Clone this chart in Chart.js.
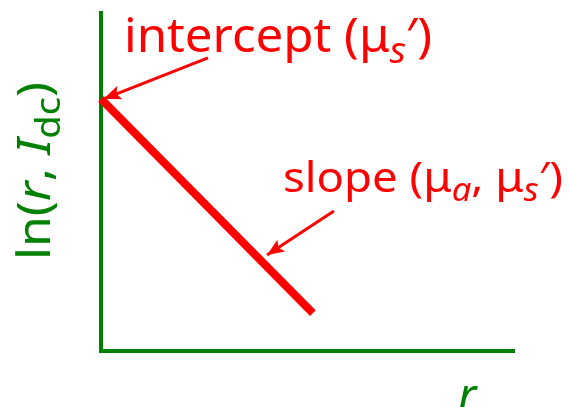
<!DOCTYPE html>
<html>
<head>
<meta charset="utf-8">
<script src="https://cdn.jsdelivr.net/npm/chart.js@4.4.0/dist/chart.umd.min.js"></script>
<style>
  html, body { margin: 0; padding: 0; background: #fff; }
  #wrap { width: 569px; height: 407px; }
</style>
</head>
<body>
<div id="wrap"><canvas id="chart" width="569" height="407"></canvas></div>
<script>
// axis range (arbitrary units, schematic)
const axisMax = 10;

// main line ln(r*Idc) vs r
const lineX = [0, 5.13];
const lineY = [7.46, 1.12];

// arrows: tail -> head
const interceptArrowX = [2.59, 0.07];
const interceptArrowY = [8.67, 7.46];
const slopeArrowX = [5.64, 4.02];
const slopeArrowY = [4.14, 2.84];

// labels as text runs
const interceptLabel = [{ t: 'intercept (\u03bc' }, { t: 's', it: true, sub: true }, { t: '\u2032)' }];
const slopeLabel = [{ t: 'slope (\u03bc' }, { t: 'a', it: true, sub: true }, { t: ', \u03bc' }, { t: 's', it: true, sub: true }, { t: '\u2032)' }];
const yLabel = [{ t: 'ln(' }, { t: 'r', it: true }, { t: ', ' }, { t: 'I', it: true }, { t: 'dc', sub: true }, { t: ')' }];
const xLabel = [{ t: 'r', it: true }];

const RED = '#ff0000';
const GREEN = '#008000';
const FONT = '"Noto Sans", sans-serif';

function toPts(xs, ys) {
    return xs.map((x, i) => ({ x: x, y: ys[i] }));
}

function runFont(r, size) {
    const s = r.sub ? size * 0.76 : size;
    return (r.it ? 'italic ' : '') + s + 'px ' + FONT;
}

// draw text runs starting at (x, baseline), optionally squeezed to a width
function drawRuns(ctx, runs, x, y, size, color, width) {
    let total = 0;
    runs.forEach(r => { ctx.font = runFont(r, size); total += ctx.measureText(r.t).width; });
    const k = width ? width / total : 1;
    ctx.save();
    ctx.translate(x, y);
    ctx.scale(k, 1);
    ctx.fillStyle = color;
    ctx.textBaseline = 'alphabetic';
    let cx = 0;
    runs.forEach(r => {
        ctx.font = runFont(r, size);
        ctx.fillText(r.t, cx, r.sub ? size * 0.22 : 0);
        cx += ctx.measureText(r.t).width;
    });
    ctx.restore();
}

const decorPlugin = {
    id: 'decor',
    afterDatasetsDraw(chart) {
        const ctx = chart.ctx;
        // arrow heads at the last point of each arrow dataset
        chart.data.datasets.forEach((ds, i) => {
            if (!ds.arrow) return;
            const pts = chart.getDatasetMeta(i).data;
            const a = pts[0], b = pts[pts.length - 1];
            const ang = Math.atan2(b.y - a.y, b.x - a.x);
            const len = 17, half = 7;
            ctx.save();
            ctx.translate(b.x, b.y);
            ctx.rotate(ang);
            ctx.beginPath();
            ctx.moveTo(0, 0);
            ctx.lineTo(-len, -half);
            ctx.lineTo(-len * 0.8, 0);
            ctx.lineTo(-len, half);
            ctx.closePath();
            ctx.fillStyle = ds.borderColor;
            ctx.fill();
            ctx.restore();
        });

        const area = chart.chartArea;
        drawRuns(ctx, interceptLabel, area.left + 23, area.top + 39, 48, RED, 308);
        drawRuns(ctx, slopeLabel, area.left + 182, area.top + 179, 42, RED, 280);

        ctx.save();
        ctx.translate(area.left - 51, area.top + 247);
        ctx.rotate(-Math.PI / 2);
        drawRuns(ctx, yLabel, 0, 0, 46, GREEN, 178);
        ctx.restore();

        drawRuns(ctx, xLabel, area.right - 56, area.bottom + 60, 46, GREEN);
    }
};

const hiddenAxis = {
    type: 'linear',
    min: 0,
    max: axisMax,
    ticks: { display: false },
    grid: { display: false, drawTicks: false },
    border: { display: true, color: GREEN, width: 4 }
};

new Chart(document.getElementById('chart').getContext('2d'), {
    type: 'scatter',
    data: {
        datasets: [
            {
                data: toPts(lineX, lineY),
                showLine: true,
                borderColor: RED,
                borderWidth: 8,
                pointRadius: 0,
                clip: false
            },
            {
                data: toPts(interceptArrowX, interceptArrowY),
                showLine: true,
                borderColor: RED,
                borderWidth: 3,
                pointRadius: 0,
                clip: false,
                arrow: true
            },
            {
                data: toPts(slopeArrowX, slopeArrowY),
                showLine: true,
                borderColor: RED,
                borderWidth: 3,
                pointRadius: 0,
                clip: false,
                arrow: true
            }
        ]
    },
    options: {
        responsive: false,
        animation: false,
        layout: { padding: { left: 101, right: 55, top: 13, bottom: 56 } },
        plugins: {
            legend: { display: false },
            tooltip: { enabled: false }
        },
        scales: {
            x: Object.assign({ position: 'bottom' }, hiddenAxis),
            y: Object.assign({ position: 'left' }, hiddenAxis)
        }
    },
    plugins: [decorPlugin]
});
</script>
</body>
</html>
